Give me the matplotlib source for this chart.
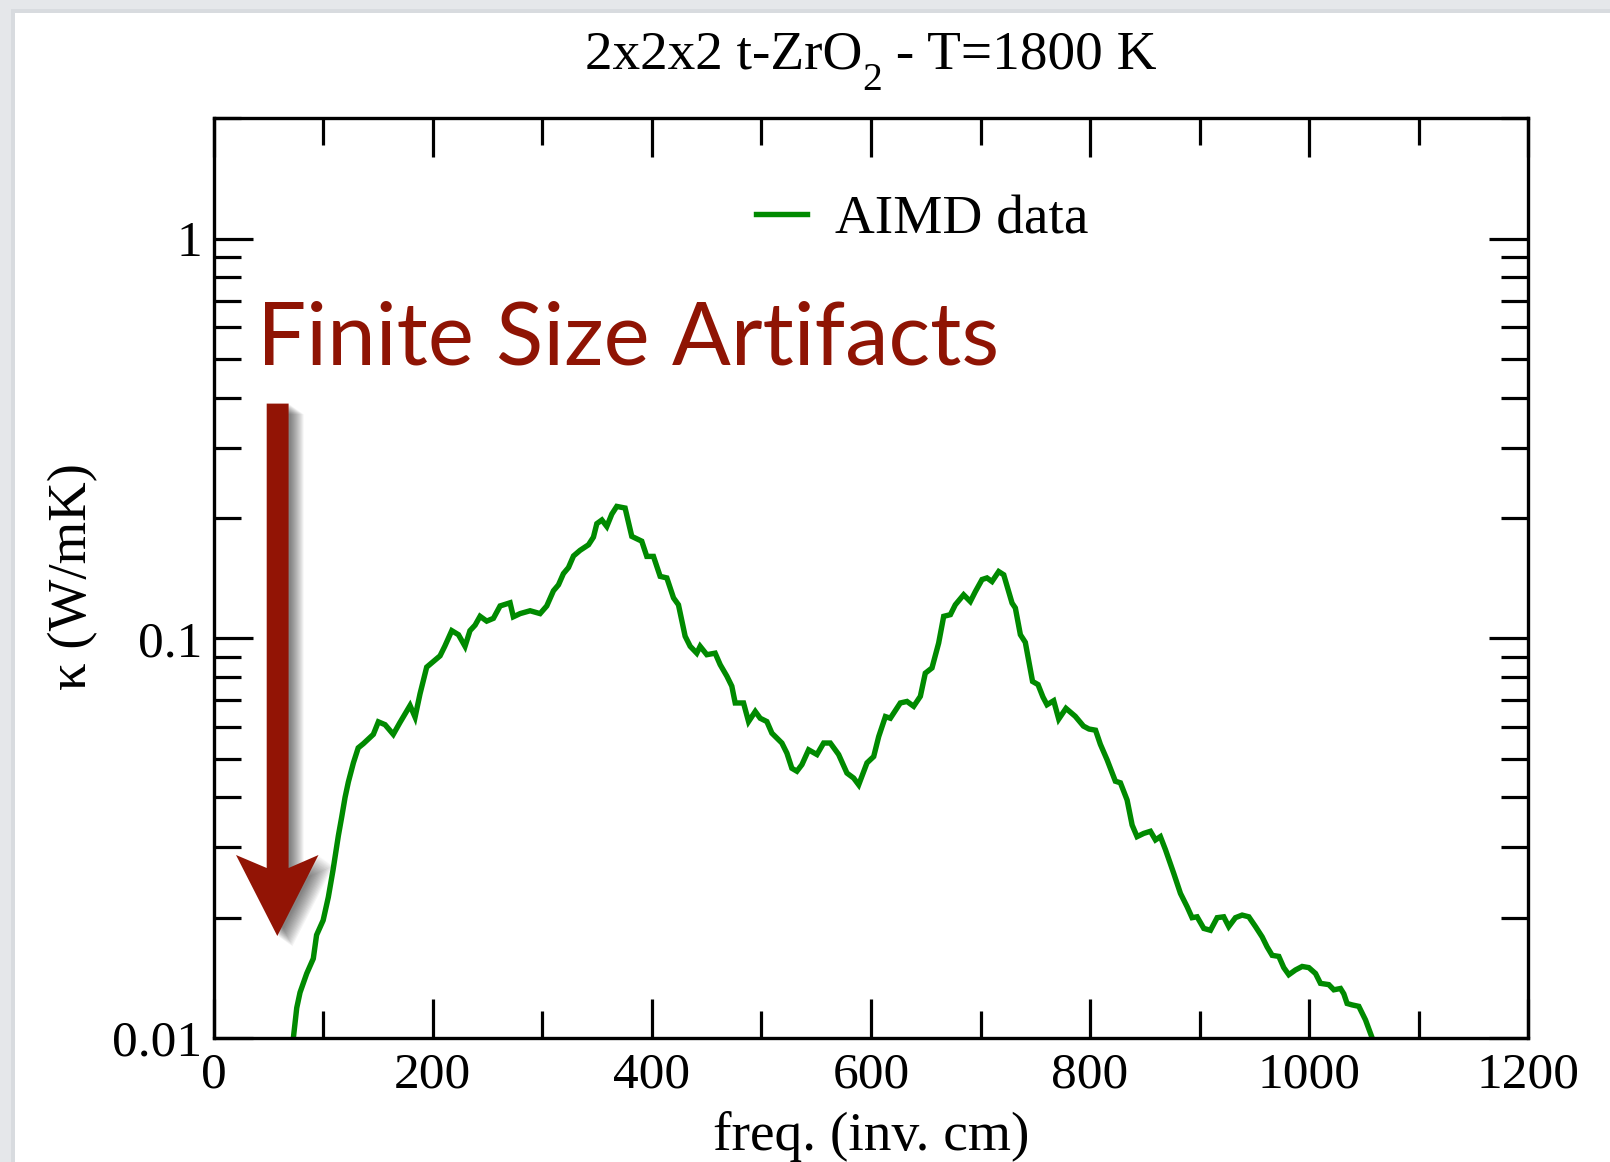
import numpy as np
import matplotlib
matplotlib.use('Agg')
import matplotlib.pyplot as plt
from matplotlib.patches import Polygon, Rectangle
from matplotlib.ticker import FixedLocator, FixedFormatter, NullFormatter, LogLocator, MultipleLocator

# ---------------- data ----------------
freq = [72.8, 75.9, 78.9, 85.0, 91.0, 94.0, 100.0, 104.7, 109.0, 113.9, 117.0, 120.0,
        123.0, 127.6, 132.0, 136.7, 145.8, 150.4, 156.5, 164.0, 170.0, 179.3, 183.9,
        188.4, 194.5, 200.6, 206.7, 211.0, 217.4, 223.5, 229.5, 234.0, 238.7, 243.2,
        249.3, 255.4, 261.5, 270.6, 273.6, 279.8, 288.9, 298.0, 304.1, 310.2, 314.8,
        319.3, 323.9, 328.5, 334.5, 342.2, 346.7, 349.8, 354.4, 358.9, 363.5, 368.0,
        375.6, 381.7, 390.8, 395.4, 401.5, 407.6, 413.7, 419.8, 424.3, 430.4, 435.0,
        441.0, 444.1, 450.2, 457.8, 462.4, 468.5, 473.0, 476.1, 483.7, 488.3, 494.4,
        498.9, 505.0, 509.6, 518.7, 523.3, 527.8, 532.4, 537.0, 543.1, 550.7, 556.8,
        562.9, 570.5, 578.1, 584.2, 588.8, 596.4, 602.5, 607.1, 613.2, 617.7, 626.8,
        632.9, 639.0, 645.1, 649.6, 655.7, 661.8, 666.4, 672.5, 677.0, 684.6, 690.7,
        695.3, 701.4, 705.9, 710.5, 716.6, 721.2, 725.7, 728.8, 731.8, 736.4, 740.9,
        747.5, 752.5, 757.0, 760.7, 766.8, 771.4, 778.0, 786.5, 794.0, 799.0, 805.0,
        809.4, 815.5, 823.1, 827.7, 833.8, 838.4, 842.9, 849.0, 855.1, 859.7, 864.2,
        868.8, 876.4, 882.5, 888.6, 893.1, 897.7, 903.8, 909.9, 916.0, 922.0, 926.6,
        932.7, 938.8, 944.9, 951.0, 957.1, 961.6, 966.2, 972.3, 976.8, 981.4, 987.5,
        993.6, 999.7, 1005.8, 1010.3, 1017.9, 1022.5, 1028.6, 1031.6, 1034.6, 1039.2,
        1045.3, 1051.4, 1057.5]

kappa = [0.0100, 0.0119, 0.0130, 0.0145, 0.0158, 0.0181, 0.0197, 0.0225, 0.0263, 0.0321,
         0.0358, 0.0400, 0.0437, 0.0488, 0.0532, 0.0545, 0.0575, 0.0618, 0.0608, 0.0575,
         0.0615, 0.0679, 0.0635, 0.0726, 0.0847, 0.0875, 0.0904, 0.0955, 0.1045, 0.1021,
         0.0955, 0.1045, 0.1079, 0.1135, 0.1104, 0.1122, 0.1205, 0.1227, 0.1132, 0.1153,
         0.1172, 0.1153, 0.1205, 0.1315, 0.1361, 0.1452, 0.1503, 0.1607, 0.1660, 0.1714,
         0.1791, 0.1936, 0.1977, 0.1905, 0.2046, 0.2138, 0.2118, 0.1799, 0.1750, 0.1603,
         0.1603, 0.1429, 0.1416, 0.1262, 0.1213, 0.1012, 0.0955, 0.0918, 0.0955, 0.0910,
         0.0918, 0.0859, 0.0804, 0.0759, 0.0689, 0.0689, 0.0619, 0.0656, 0.0631, 0.0619,
         0.0579, 0.0547, 0.0516, 0.0473, 0.0465, 0.0483, 0.0526, 0.0512, 0.0547, 0.0547,
         0.0512, 0.0460, 0.0447, 0.0430, 0.0488, 0.0506, 0.0568, 0.0637, 0.0631, 0.0689,
         0.0695, 0.0676, 0.0716, 0.0818, 0.0843, 0.0973, 0.1135, 0.1146, 0.1213, 0.1285,
         0.1236, 0.1309, 0.1403, 0.1416, 0.1387, 0.1469, 0.1442, 0.1309, 0.1225, 0.1191,
         0.1021, 0.0977, 0.0780, 0.0766, 0.0713, 0.0682, 0.0698, 0.0628, 0.0668, 0.0638,
         0.0603, 0.0593, 0.0589, 0.0543, 0.0497, 0.0439, 0.0435, 0.0394, 0.0341, 0.0319,
         0.0325, 0.0329, 0.0313, 0.0319, 0.0296, 0.0258, 0.0230, 0.0213, 0.0200, 0.0201,
         0.0188, 0.0186, 0.0200, 0.0201, 0.0190, 0.0200, 0.0203, 0.0201, 0.0190, 0.0179,
         0.0169, 0.0161, 0.0160, 0.0150, 0.0144, 0.0148, 0.0151, 0.0150, 0.0145, 0.0137,
         0.0136, 0.0132, 0.0133, 0.0129, 0.0122, 0.0121, 0.0120, 0.0111, 0.0100]

x_ticks = [0, 200, 400, 600, 800, 1000, 1200]
x_tick_labels = ['0', '200', '400', '600', '800', '1000', '1200']
y_ticks = [0.01, 0.1, 1]
y_tick_labels = ['0.01', '0.1', '1']

title_main = '2x2x2 t-ZrO'
title_sub = '2'
title_rest = ' - T=1800 K'
xlabel_text = 'freq. (inv. cm)'
ylabel_text = 'κ (W/mK)'
legend_label = 'AIMD data'
note_text = 'Finite Size Artifacts'

# ---------------- figure ----------------
W, H = 1610, 1162
DPI = 100
plt.rcParams['font.family'] = ['Liberation Serif', 'DejaVu Serif']

fig = plt.figure(figsize=(W / DPI, H / DPI), dpi=DPI)
fig.patch.set_facecolor('#e5e7ea')


def fx(px):
    return px / W


def fy(py):
    return 1 - py / H


# white slide area with light gray frame on the top/left
fig.add_artist(Rectangle((fx(15), 0), 1 - fx(15), fy(13), transform=fig.transFigure,
                         facecolor='white', edgecolor='none', zorder=-10))
fig.add_artist(Rectangle((fx(11), 0), fx(4), fy(9), transform=fig.transFigure,
                         facecolor='#d8dbdf', edgecolor='none', zorder=-11))
fig.add_artist(Rectangle((fx(11), fy(13)), 1 - fx(11), 4 / H, transform=fig.transFigure,
                         facecolor='#d8dbdf', edgecolor='none', zorder=-11))

L, R, T, B = 213.6, 1528.3, 118.3, 1038.0
ax = fig.add_axes([fx(L), fy(B), fx(R) - fx(L), fy(T) - fy(B)])
ax.set_facecolor('none')
ax.set_yscale('log')
ax.set_xlim(0, 1200)
ax.set_ylim(0.01, 2.0)

ax.plot(freq, kappa, color='#008a00', lw=3.9, label=legend_label,
        solid_joinstyle='miter')

ax.xaxis.set_major_locator(FixedLocator(x_ticks))
ax.xaxis.set_major_formatter(FixedFormatter(x_tick_labels))
ax.xaxis.set_minor_locator(MultipleLocator(100))
ax.yaxis.set_major_locator(FixedLocator(y_ticks))
ax.yaxis.set_major_formatter(FixedFormatter(y_tick_labels))
ax.yaxis.set_minor_locator(LogLocator(base=10, subs=range(2, 10), numticks=20))
ax.yaxis.set_minor_formatter(NullFormatter())

for s in ax.spines.values():
    s.set_linewidth(2.4)
ax.tick_params(which='both', direction='in', top=True, right=True, width=2.3, color='black')
ax.tick_params(which='major', length=28)
ax.tick_params(which='minor', length=19.5)
ax.tick_params(axis='x', which='major', labelsize=37, pad=10)
ax.tick_params(axis='y', which='major', labelsize=37, pad=8.4)

leg = ax.legend(loc='center left', bbox_to_anchor=(0.4126, 0.889), frameon=False,
                fontsize=39.8, handlelength=0.93, handletextpad=0.5, borderpad=0,
                borderaxespad=0)

# ---------------- texts ----------------
xlab = fig.text(fx(871), fy(1150), xlabel_text, ha='center', va='baseline', fontsize=39)
ylab = fig.text(fx(73.3), fy(576.5), ylabel_text, ha='center', va='center', rotation=90,
                fontsize=39)
note = fig.text(fx(257), fy(364.5), note_text, ha='left', va='baseline', fontsize=66,
                family=['Lato', 'DejaVu Sans'], color='#8f1404')

fig.canvas.draw()
rend = fig.canvas.get_renderer()


def fit(t, target, use_height=False):
    for _ in range(3):
        bb = t.get_window_extent(rend)
        cur = bb.height if use_height else bb.width
        t.set_fontsize(t.get_fontsize() * target / cur)


fit(xlab, 317)
fit(ylab, 227, use_height=True)
fit(note, 742)

# title assembled from pieces so the subscript sits low like the reference
title_fs = 39.8
t1 = fig.text(0, fy(68.3), title_main, ha='left', va='baseline', fontsize=title_fs)
t2 = fig.text(0, fy(90.0), title_sub, ha='left', va='baseline', fontsize=title_fs * 0.72)
t3 = fig.text(0, fy(68.3), title_rest, ha='left', va='baseline', fontsize=title_fs)
w1 = t1.get_window_extent(rend).width
w2 = t2.get_window_extent(rend).width
w3 = t3.get_window_extent(rend).width
total = w1 + w2 + w3
x0 = 871 - total / 2
t1.set_x(fx(x0))
t2.set_x(fx(x0 + w1))
t3.set_x(fx(x0 + w1 + w2))

# ---------------- arrow with soft shadow ----------------
arrow_px = [(266.7, 403.6), (288.6, 403.6), (288.6, 868.0), (318.5, 855.0),
            (277.3, 936.0), (236.0, 855.0), (266.7, 868.0)]


def to_fig(pts, dx=0.0, dy=0.0):
    return [(fx(x + dx), fy(y + dy)) for x, y in pts]


for off in np.arange(2, 16, 1.0):
    fig.add_artist(Polygon(to_fig(arrow_px, off, off * 0.7), closed=True,
                           transform=fig.transFigure, facecolor='black',
                           edgecolor='none', alpha=0.045, zorder=5))
fig.add_artist(Polygon(to_fig(arrow_px), closed=True, transform=fig.transFigure,
                       facecolor='#921405', edgecolor='none', zorder=6))

fig.savefig('out.png', dpi=DPI, facecolor=fig.get_facecolor())
